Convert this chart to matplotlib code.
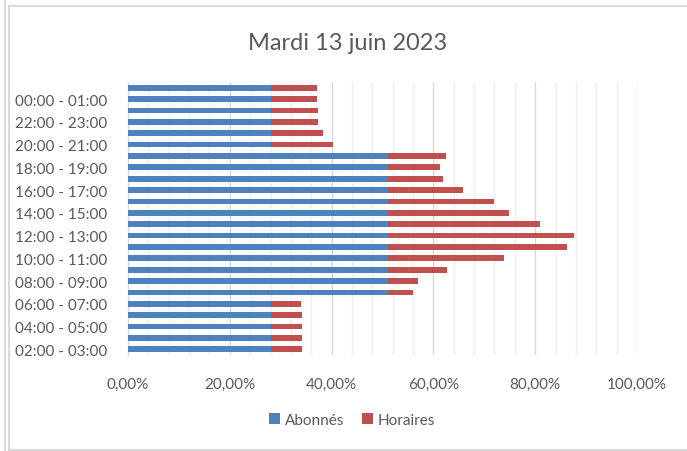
import matplotlib
matplotlib.use("Agg")
import matplotlib.pyplot as plt
from matplotlib.lines import Line2D
from matplotlib.ticker import FixedLocator, FuncFormatter
import numpy as np

plt.rcParams['font.family'] = ['Lato', 'DejaVu Sans']

title = "Mardi 13 juin 2023"
categories = ["02:00 - 03:00", "03:00 - 04:00", "04:00 - 05:00", "05:00 - 06:00",
              "06:00 - 07:00", "07:00 - 08:00", "08:00 - 09:00", "09:00 - 10:00",
              "10:00 - 11:00", "11:00 - 12:00", "12:00 - 13:00", "13:00 - 14:00",
              "14:00 - 15:00", "15:00 - 16:00", "16:00 - 17:00", "17:00 - 18:00",
              "18:00 - 19:00", "19:00 - 20:00", "20:00 - 21:00", "21:00 - 22:00",
              "22:00 - 23:00", "23:00 - 00:00", "00:00 - 01:00", "01:00 - 02:00"]
abonnes = [28.1, 28.1, 28.1, 28.1, 28.1, 51.1, 51.1, 51.1, 51.1, 51.1, 51.1, 51.1,
           51.1, 51.1, 51.1, 51.1, 51.1, 51.1, 28.1, 28.1, 28.1, 28.1, 28.1, 28.1]
horaires = [6.0, 6.0, 6.0, 6.0, 5.8, 4.8, 5.9, 11.6, 22.8, 35.1, 36.5, 29.8,
            23.7, 20.9, 14.8, 10.7, 10.2, 11.4, 12.1, 10.2, 9.3, 9.2, 9.0, 9.0]
series_names = ["Abonnés", "Horaires"]
x_ticks = [0, 20, 40, 60, 80, 100]

blue = "#4F81BD"
red = "#C0504D"
txt = "#595959"

W, H = 687, 452
fig = plt.figure(figsize=(W / 100, H / 100), dpi=100)
ax = fig.add_axes([128 / W, 1 - 356 / H, (637 - 128) / W, (356 - 83) / H])

y = np.arange(len(categories))
ab = np.array(abonnes) / 100
ho = np.array(horaires) / 100
ax.barh(y, ab, height=0.5, color=blue, label=series_names[0], zorder=3)
ax.barh(y, ho, left=ab, height=0.5, color=red, label=series_names[1], zorder=3)

ax.set_xlim(0, 1.0)
ax.set_ylim(-0.5, len(categories) - 0.5)

ax.xaxis.set_major_locator(FixedLocator([t / 100 for t in x_ticks]))
ax.xaxis.set_major_formatter(FuncFormatter(lambda v, p: f"{v*100:.2f}%".replace(".", ",")))
ax.xaxis.set_minor_locator(FixedLocator(np.arange(0, 1.0001, 0.04)))
ax.grid(axis='x', which='minor', color='#efefef', linewidth=1.0, zorder=0)
ax.grid(axis='x', which='major', color='#d9d9d9', linewidth=1.0, zorder=1)

ax.set_yticks(y[::2])
ax.set_yticklabels(categories[::2])
ax.tick_params(axis='both', which='both', length=0, colors=txt, labelsize=11)
ax.tick_params(axis='y', pad=15)
ax.tick_params(axis='x', pad=16)

for s in ['top', 'right', 'bottom']:
    ax.spines[s].set_visible(False)
ax.spines['left'].set_color('#d9d9d9')

fig.text(348 / W, 1 - 43 / H, title, ha='center', va='center', fontsize=17, color=txt)

handles, labels = ax.get_legend_handles_labels()
fig.legend(handles, labels, loc='center', bbox_to_anchor=(352 / W, 1 - 421 / H), ncol=2,
           frameon=False, fontsize=11, labelcolor=txt, handlelength=0.7, handleheight=0.7,
           handletextpad=0.3, columnspacing=1.2)

# chart frame lines
def fline(x0, y0, x1, y1):
    fig.add_artist(Line2D([x0 / W, x1 / W], [1 - y0 / H, 1 - y1 / H], color='#d9d9d9',
                          linewidth=1.5, transform=fig.transFigure))

fline(5, 0, 5, H)
fline(8.5, 7, 8.5, 450.5)
fline(8.5, 7, W, 7)
fline(8.5, 450.5, W, 450.5)

fig.savefig("out.png", dpi=100)
